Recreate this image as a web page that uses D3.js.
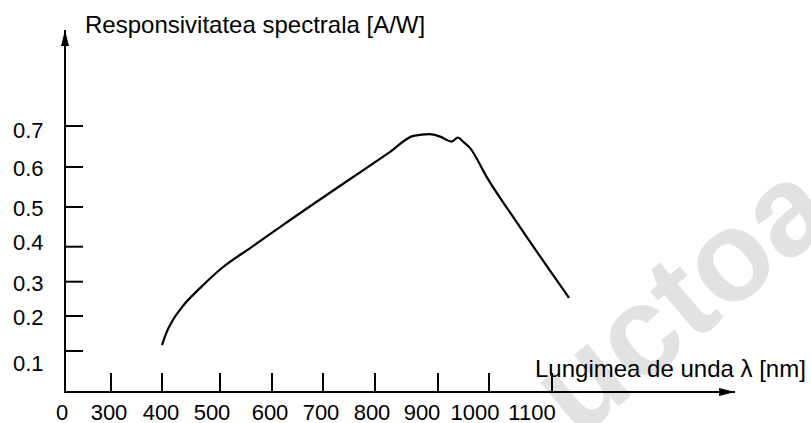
<!DOCTYPE html>
<html>
<head>
<meta charset="utf-8">
<script src="https://cdn.jsdelivr.net/npm/d3@7/dist/d3.min.js"></script>
<style>
  body { margin: 0; background: #fff; }
  svg { display: block; }
  text { font-family: "Liberation Sans", Arial, sans-serif; fill: #000; }
</style>
</head>
<body>
<div id="chart"></div>
<script>
// tick values (hand drawn axes, not evenly spaced)
var xTicks = [0, 300, 400, 500, 600, 700, 800, 900, 1000, 1100];
var yTicks = [0.1, 0.2, 0.3, 0.4, 0.5, 0.6, 0.7];

// curve
var wavelength   = [400, 408, 419, 436, 466, 506, 558, 622, 824, 861, 887, 904, 927, 939, 949, 963, 995, 1049, 1127];
var responsivity = [0.117, 0.154, 0.189, 0.229, 0.282, 0.342, 0.396, 0.455, 0.637, 0.676, 0.680, 0.674, 0.662, 0.672, 0.662, 0.646, 0.576, 0.450, 0.253];

var width = 811, height = 423;

var svg = d3.select("#chart").append("svg")
    .attr("width", width)
    .attr("height", height);

// the drawing is hand made, so the scales are piecewise
var x = d3.scaleLinear()
    .domain(xTicks)
    .range([65, 111, 162, 220, 272, 323, 375, 438, 489, 552]);
var y = d3.scaleLinear()
    .domain([0].concat(yTicks))
    .range([392, 351, 316, 281.7, 246.7, 207, 167, 126]);

// labels sit a bit off their ticks
var xLab = d3.scaleLinear()
    .domain(xTicks)
    .range([62, 109, 161, 212, 270, 321, 372, 422, 475, 532]);
var yLab = d3.scaleLinear()
    .domain(yTicks)
    .range([362.6, 316.7, 283, 242, 208, 167.5, 129.5]);

// watermark
svg.append("text")
    .attr("transform", "translate(578,440) rotate(-40)")
    .attr("font-size", "128px")
    .attr("font-weight", "bold")
    .style("fill", "#e2e2e2")
    .text("uctoa");

svg.append("defs").selectAll("marker")
    .data(["arrow"])
    .enter().append("marker")
    .attr("id", String)
    .attr("viewBox", "0 -4 16 8")
    .attr("refX", 16)
    .attr("refY", 0)
    .attr("markerUnits", "userSpaceOnUse")
    .attr("markerWidth", 16)
    .attr("markerHeight", 8)
    .attr("orient", "auto")
    .append("path")
    .attr("d", "M0,-4L16,0L0,4Z")
    .style("fill", "black");

// axes
svg.append("line")
    .attr("x1", x(0)).attr("y1", y(0))
    .attr("x2", 735).attr("y2", y(0))
    .style("stroke", "black").style("stroke-width", 2)
    .attr("marker-end", "url(#arrow)");
svg.append("line")
    .attr("x1", x(0)).attr("y1", y(0) + 1)
    .attr("x2", x(0)).attr("y2", 30)
    .style("stroke", "black").style("stroke-width", 2)
    .attr("marker-end", "url(#arrow)");

svg.selectAll(".xtick")
    .data(xTicks.slice(1))
    .enter().append("line")
    .attr("class", "xtick")
    .attr("x1", function(d) { return x(d); })
    .attr("x2", function(d) { return x(d); })
    .attr("y1", y(0))
    .attr("y2", y(0) - 19)
    .style("stroke", "black").style("stroke-width", 2);

svg.selectAll(".ytick")
    .data(yTicks)
    .enter().append("line")
    .attr("class", "ytick")
    .attr("x1", x(0))
    .attr("x2", x(0) + 18)
    .attr("y1", function(d) { return y(d); })
    .attr("y2", function(d) { return y(d); })
    .style("stroke", "black").style("stroke-width", 2);

svg.selectAll(".xlab")
    .data(xTicks)
    .enter().append("text")
    .attr("class", "xlab")
    .attr("x", function(d) { return xLab(d); })
    .attr("y", 420)
    .attr("text-anchor", "middle")
    .attr("font-size", "22px")
    .text(function(d) { return d; });

svg.selectAll(".ylab")
    .data(yTicks)
    .enter().append("text")
    .attr("class", "ylab")
    .attr("x", 13)
    .attr("y", function(d) { return yLab(d) + 8; })
    .attr("font-size", "22px")
    .text(function(d) { return d3.format(".1f")(d); });

// axis titles
svg.append("text")
    .attr("x", 85).attr("y", 33)
    .attr("font-size", "24px")
    .text("Responsivitatea spectrala [A/W]");
svg.append("text")
    .attr("x", 535).attr("y", 377)
    .attr("font-size", "24px")
    .text("Lungimea de unda \u03bb [nm]");

// the curve
var line = d3.line()
    .x(function(d, i) { return x(wavelength[i]); })
    .y(function(d) { return y(d); })
    .curve(d3.curveMonotoneX);

svg.append("path")
    .datum(responsivity)
    .attr("d", line)
    .style("fill", "none")
    .style("stroke", "black")
    .style("stroke-width", 2.2);
</script>
</body>
</html>
